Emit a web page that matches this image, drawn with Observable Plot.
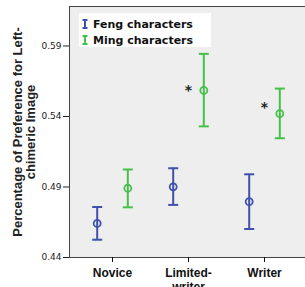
<!DOCTYPE html>
<html>
<head>
<meta charset="utf-8">
<script src="https://cdn.jsdelivr.net/npm/d3@7"></script>
<script src="https://cdn.jsdelivr.net/npm/@observablehq/plot@0.6"></script>
<style>
  html, body { margin: 0; padding: 0; background: #fff; }
  #wrap { position: relative; width: 305px; height: 287px; overflow: hidden; }
  g[aria-label="y-axis label"] text { font: bold 13px "Liberation Sans", Arial, sans-serif; }
  #legend { position: absolute; left: 79px; top: 13px; width: 132px; height: 34px; background: #fff;
    font: bold 11px "DejaVu Sans", sans-serif; color: #111; }
  #legend .item { position: absolute; left: 3px; height: 16px; display: flex; align-items: center; }
  #legend svg { margin-right: 5px; }
</style>
</head>
<body>
<div id="wrap"><div id="chart"></div><div id="legend"></div></div>
<script>
const categories = ["Novice", "Limited-writer", "Writer"];
const seriesNames = ["Feng characters", "Ming characters"];
const seriesColors = ["#3f51ad", "#45c04a"];

const fengMean = [0.4642, 0.4901, 0.4796];
const fengLow  = [0.4526, 0.4773, 0.4602];
const fengHigh = [0.4758, 0.5033, 0.4990];

const mingMean = [0.4891, 0.5585, 0.5420];
const mingLow  = [0.4756, 0.5330, 0.5246];
const mingHigh = [0.5024, 0.5844, 0.5598];

const sigLabels = ["", "*", "*"];
const sigY = [null, 0.5600, 0.5479];

const yTicks = [0.44, 0.49, 0.54, 0.59];

const feng = categories.map((c, i) => ({cat: c, mean: fengMean[i], lo: fengLow[i], hi: fengHigh[i]}));
const ming = categories.map((c, i) => ({cat: c, mean: mingMean[i], lo: mingLow[i], hi: mingHigh[i]}));
const sig = categories.map((c, i) => ({cat: c, label: sigLabels[i], y: sigY[i]})).filter(d => d.label);

const capSymbol = {draw(context) { context.moveTo(-5, 0); context.lineTo(5, 0); }};

function seriesMarks(data, color, dx) {
  return [
    Plot.ruleX(data, {x: "cat", y1: "lo", y2: "hi", dx, stroke: color, strokeWidth: 2}),
    Plot.dot(data, {x: "cat", y: "lo", dx, symbol: capSymbol, stroke: color, strokeWidth: 2, fill: "none"}),
    Plot.dot(data, {x: "cat", y: "hi", dx, symbol: capSymbol, stroke: color, strokeWidth: 2, fill: "none"}),
    Plot.dot(data, {x: "cat", y: "mean", dx, r: 3.5, stroke: color, strokeWidth: 1.8, fill: "none"})
  ];
}

const chart = Plot.plot({
  width: 305,
  height: 287,
  marginLeft: 69,
  marginRight: -3,
  marginTop: 6,
  marginBottom: 30,
  style: {background: "transparent", overflow: "visible"},
  x: {type: "point", domain: categories, range: [111.7, 265], padding: 0},
  y: {domain: [0.44, 0.618]},
  marks: [
    Plot.frame({fill: "#eeeeee", stroke: "#444"}),
    Plot.axisY({
      ticks: yTicks, tickFormat: d3.format(".2f"), tickSize: 6, tickPadding: 2,
      fontFamily: "DejaVu Sans", fontSize: 9, color: "#222",
      label: "Percentage of Preference for Left-\nchimeric Image", labelAnchor: "center", labelOffset: 57, labelArrow: "none"
    }),
    Plot.axisX({
      tickSize: 5, tickPadding: 5, label: null, lineHeight: 1.15,
      tickFormat: d => d === "Limited-writer" ? "Limited-\nwriter" : d,
      fontFamily: "Liberation Sans", fontSize: 12, fontWeight: "bold", color: "#111"
    }),
    ...seriesMarks(feng, seriesColors[0], -15.3),
    ...seriesMarks(ming, seriesColors[1], 15.3),
    Plot.text(sig, {x: "cat", y: "y", text: "label", dy: 2, fontSize: 14, fontWeight: "bold", fontFamily: "DejaVu Sans", fill: "#222"})
  ]
});
document.getElementById("chart").appendChild(chart);

const legend = document.getElementById("legend");
seriesNames.forEach((name, i) => {
  const item = document.createElement("div");
  item.className = "item";
  item.style.top = (3 + i * 16) + "px";
  item.innerHTML = `<svg width="6" height="10"><path d="M0.5,1H5.5M3,1V9M0.5,9H5.5" stroke="${seriesColors[i]}" stroke-width="2" fill="none"/></svg>`;
  const span = document.createElement("span");
  span.textContent = name;
  item.appendChild(span);
  legend.appendChild(item);
});
</script>
</body>
</html>
